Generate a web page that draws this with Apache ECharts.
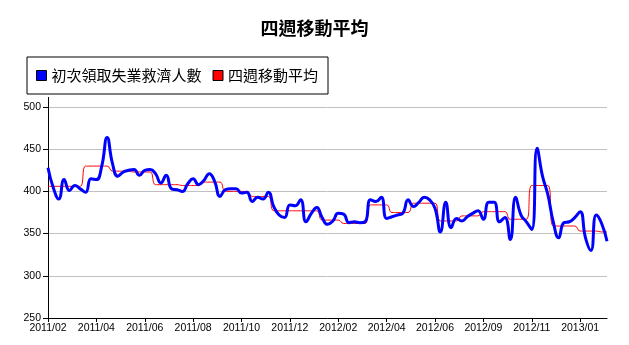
<!DOCTYPE html>
<html>
<head>
<meta charset="utf-8">
<script src="https://cdn.jsdelivr.net/npm/echarts@6/dist/echarts.min.js"></script>
<style>
  html, body { margin: 0; padding: 0; background: #fff; }
  #chart { width: 629px; height: 345px; }
</style>
</head>
<body>
<div id="chart"></div>
<script>
// Weekly dates (Saturdays), Feb 2011 – Feb 2013
const weeks = [
  '2011/02/12','2011/02/19','2011/02/26','2011/03/05','2011/03/12','2011/03/19','2011/03/26',
  '2011/04/02','2011/04/09','2011/04/16','2011/04/23','2011/04/30','2011/05/07','2011/05/14',
  '2011/05/21','2011/05/28','2011/06/04','2011/06/11','2011/06/18','2011/06/25','2011/07/02',
  '2011/07/09','2011/07/16','2011/07/23','2011/07/30','2011/08/06','2011/08/13','2011/08/20',
  '2011/08/27','2011/09/03','2011/09/10','2011/09/17','2011/09/24','2011/10/01','2011/10/08',
  '2011/10/15','2011/10/22','2011/10/29','2011/11/05','2011/11/12','2011/11/19','2011/11/26',
  '2011/12/03','2011/12/10','2011/12/17','2011/12/24','2011/12/31',
  '2012/01/07','2012/01/14','2012/01/21','2012/01/28','2012/02/04','2012/02/11','2012/02/18',
  '2012/02/25','2012/03/03','2012/03/10','2012/03/17','2012/03/24','2012/03/31','2012/04/07',
  '2012/04/14','2012/04/21','2012/04/28','2012/05/05','2012/05/12','2012/05/19','2012/05/26',
  '2012/06/02','2012/06/09','2012/06/16','2012/06/23','2012/06/30','2012/07/07','2012/07/14',
  '2012/07/21','2012/07/28','2012/08/04','2012/08/11','2012/08/18','2012/08/25','2012/09/01',
  '2012/09/08','2012/09/15','2012/09/22','2012/09/29','2012/10/06','2012/10/13','2012/10/20',
  '2012/10/27','2012/11/03','2012/11/10','2012/11/17','2012/11/24','2012/12/01','2012/12/08',
  '2012/12/15','2012/12/22','2012/12/29',
  '2013/01/05','2013/01/12','2013/01/19','2013/01/26','2013/02/02','2013/02/09'
];

// Initial jobless claims (thousands), weekly
const initialClaims = [
  428, 404, 391, 414, 401, 407, 403, 399, 415, 414, 430, 464, 433, 418, 423, 425,
  426, 419, 425, 426, 421, 410, 419, 403, 402, 400, 409, 415, 408, 413, 421, 412,
  394, 402, 403, 403, 398, 399, 388, 393, 391, 399, 382, 372, 369, 384, 383, 390,
  364, 374, 381, 369, 361, 365, 374, 373, 363, 364, 363, 364, 390, 388, 393, 368,
  370, 372, 374, 390, 382, 387, 393, 390, 380, 352, 387, 357, 368, 365, 370, 374,
  377, 367, 387, 387, 364, 369, 343, 393, 372, 364, 355, 451, 418, 396, 364, 345,
  363, 364, 369, 376, 345, 330, 372, 362, 341
];

// Four-week moving average, weekly
const movingAvg = [
  406, 406, 406, 406, 406, 406, 406,
  430, 430, 430, 430, 430,
  424, 424, 424, 424,
  423, 423, 423, 423,
  408, 408, 408, 408, 408,
  407, 407, 407, 407,
  411, 411, 411, 411,
  400, 400, 400, 400, 400,
  394, 394, 394, 394,
  377, 377, 377, 377, 377,
  377, 377, 377, 377,
  366, 366, 366, 366,
  362, 362, 362, 362, 362,
  384, 384, 384, 384,
  375, 375, 375, 375,
  386, 386, 386, 386, 386,
  365, 365, 365, 365,
  371, 371, 371, 371,
  376, 376, 376, 376, 376,
  367, 367, 367, 367,
  407, 407, 407, 407,
  359, 359, 359, 359, 359,
  353, 353, 353, 353,
  352, 352
];

const seriesNames = ['初次領取失業救濟人數', '四週移動平均'];
const yTicks = { min: 250, max: 500, step: 50 };

const chart = echarts.init(document.getElementById('chart'), null, { renderer: 'canvas' });
const baseFont = 'Liberation Sans, Arial, "Noto Sans CJK TC", sans-serif';
const cjkFont = '"Noto Sans CJK TC", "Noto Sans CJK SC", sans-serif';

chart.setOption({
  animation: false,
  backgroundColor: '#ffffff',
  title: {
    text: '四週移動平均',
    left: 'center',
    top: 14,
    textStyle: { fontFamily: cjkFont, fontSize: 18, fontWeight: 'bold', color: '#000' }
  },
  legend: {
    data: seriesNames,
    left: 27,
    top: 57,
    orient: 'horizontal',
    icon: 'rect',
    itemWidth: 10,
    itemHeight: 10,
    itemGap: 11,
    padding: [11, 10, 11, 9],
    borderColor: '#000',
    borderWidth: 1,
    backgroundColor: '#fff',
    textStyle: { fontFamily: cjkFont, fontSize: 15, color: '#000' },
    itemStyle: { borderColor: '#000', borderWidth: 1 }
  },
  grid: { left: 48, right: 22, top: 107, bottom: 27, containLabel: false },
  xAxis: {
    type: 'category',
    boundaryGap: false,
    data: weeks,
    axisLine: { lineStyle: { color: '#000', width: 1 } },
    axisTick: { interval: 8, length: 4, lineStyle: { color: '#000' } },
    axisLabel: {
      interval: 8,
      margin: 5,
      color: '#000',
      fontFamily: baseFont,
      fontSize: 10.5,
      formatter: v => v.slice(0, 7)
    },
    splitLine: { show: false }
  },
  yAxis: {
    type: 'value',
    min: yTicks.min,
    max: yTicks.max,
    interval: yTicks.step,
    axisLine: { show: true, lineStyle: { color: '#000', width: 1 } },
    axisTick: { show: true, length: 5, lineStyle: { color: '#000' } },
    axisLabel: { margin: 7, color: '#000', fontFamily: baseFont, fontSize: 10.5 },
    splitLine: { show: true, lineStyle: { color: '#c0c0c0', width: 1 } }
  },
  series: [
    {
      name: seriesNames[0],
      type: 'line',
      data: initialClaims,
      smooth: 0.5,
      showSymbol: false,
      symbol: 'none',
      z: 3,
      itemStyle: { color: '#0000ff', borderColor: '#000', borderWidth: 1 },
      lineStyle: { color: '#0000ff', width: 3 }
    },
    {
      name: seriesNames[1],
      type: 'line',
      data: movingAvg,
      smooth: 0.5,
      showSymbol: false,
      symbol: 'none',
      z: 2,
      itemStyle: { color: '#ff0000', borderColor: '#000', borderWidth: 1 },
      lineStyle: { color: '#ff0000', width: 1 }
    }
  ],
  graphic: [
    // y axis line continues a little above the top gridline
    { type: 'line', shape: { x1: 48.5, y1: 97, x2: 48.5, y2: 107 }, style: { stroke: '#000', lineWidth: 1 } }
  ]
});
</script>
</body>
</html>
